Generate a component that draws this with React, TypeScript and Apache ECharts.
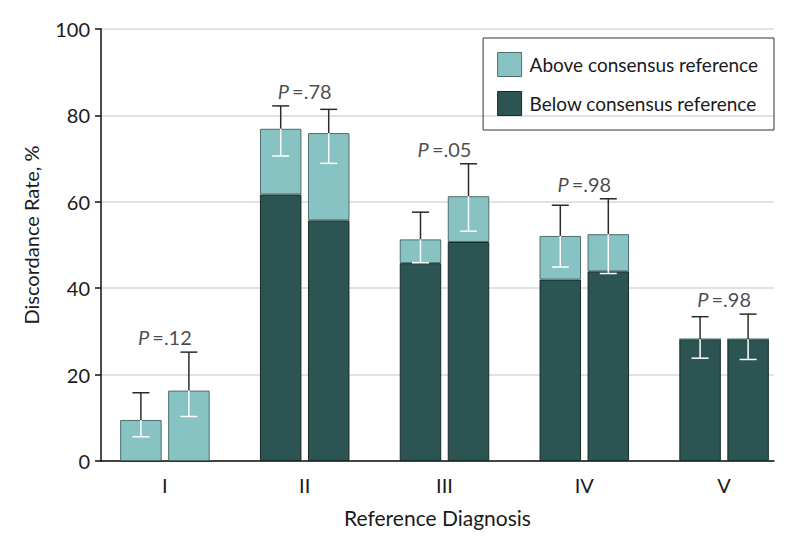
import React, { useEffect, useRef } from "react";
import * as echarts from "echarts";

const categories = ["I", "II", "III", "IV", "V"];
const belowA = [0, 61.7, 45.8, 42.0, 28.2];
const aboveA = [9.5, 15.2, 5.5, 10.1, 0];
const belowB = [0, 55.7, 50.7, 43.9, 28.2];
const aboveB = [16.3, 20.2, 10.6, 8.6, 0];
const upperA = [15.8, 82.2, 57.6, 59.2, 33.4];
const lowerA = [5.6, 70.6, 45.9, 44.9, 23.8];
const upperB = [25.2, 81.4, 68.8, 60.7, 34.0];
const lowerB = [10.3, 68.9, 53.2, 43.4, 23.5];
const pValues = [".12", ".78", ".05", ".98", ".98"];
const yTicks = [0, 20, 40, 60, 80, 100];

const ABOVE = "Above consensus reference";
const BELOW = "Below consensus reference";
const LIGHT = "#87c3c2";
const DARK = "#2b5453";
const FONT = "Lato";
const FS = 20;
const TEXT = "#1a1a1a";

const BAR_W = 41.5;
const GAP_PX = 6.5;

export default function App() {
  const ref = useRef<HTMLDivElement>(null);
  useEffect(() => {
    if (!ref.current) return;
    const chart = echarts.init(ref.current, undefined, { renderer: "svg" });

    const errSeries = (below: number[], above: number[], upper: number[], lower: number[], side: number) => ({
      type: "custom",
      xAxisIndex: 0,
      yAxisIndex: 0,
      z: 10,
      silent: true,
      data: categories.map((_, i) => [i, below[i] + above[i], upper[i], lower[i]]),
      renderItem: (params: any, api: any) => {
        const i = api.value(0);
        const top = api.coord([i, api.value(1)]);
        const up = api.coord([i, api.value(2)]);
        const lo = api.coord([i, api.value(3)]);
        const x = top[0] + side * (BAR_W + GAP_PX) / 2;
        const cap = 8.5;
        const dark = { stroke: "#2a2a2a", lineWidth: 1.5 };
        const white = { stroke: "#ffffff", lineWidth: 1.5 };
        return {
          type: "group",
          children: [
            { type: "line", shape: { x1: x, y1: top[1], x2: x, y2: up[1] }, style: dark },
            { type: "line", shape: { x1: x - cap, y1: up[1], x2: x + cap, y2: up[1] }, style: dark },
            { type: "line", shape: { x1: x, y1: top[1], x2: x, y2: lo[1] }, style: white },
            { type: "line", shape: { x1: x - cap, y1: lo[1], x2: x + cap, y2: lo[1] }, style: white },
          ],
        };
      },
    });

    const lightStyle = { color: LIGHT, borderColor: "#4d6e6d", borderWidth: 1 };
    const darkStyle = { color: DARK, borderColor: "#172b2a", borderWidth: 1 };

    chart.setOption({
      animation: false,
      textStyle: { fontFamily: FONT },
      grid: [
        { left: 95, top: 29, width: 705, height: 432 },
        { left: 101, top: 29, width: 673, height: 432 },
      ],
      legend: {
        orient: "vertical",
        right: 20,
        top: 38,
        icon: "rect",
        itemWidth: 24,
        itemHeight: 24,
        itemGap: 14,
        padding: [14, 16, 14, 14],
        borderColor: "#333",
        borderWidth: 1,
        textStyle: { fontSize: 19, color: TEXT, fontFamily: FONT, padding: [0, 0, 0, 3] },
        data: [
          { name: ABOVE, itemStyle: lightStyle },
          { name: BELOW, itemStyle: darkStyle },
        ],
      },
      xAxis: [
        {
          type: "category",
          gridIndex: 0,
          data: categories,
          axisLine: { show: false },
          axisTick: { show: false },
          axisLabel: { fontSize: FS, color: TEXT, margin: 14, fontFamily: FONT },
        },
        {
          type: "value",
          gridIndex: 1,
          min: 0,
          max: 1,
          axisLine: { show: true, lineStyle: { color: "#111", width: 1.5 } },
          axisTick: { show: false },
          axisLabel: { show: false },
          splitLine: { show: false },
          name: "Reference Diagnosis",
          nameLocation: "middle",
          nameGap: 46,
          nameTextStyle: { fontSize: 21, color: TEXT, fontFamily: FONT },
        },
      ],
      yAxis: [
        { type: "value", gridIndex: 0, min: 0, max: 100, show: false },
        {
          type: "value",
          gridIndex: 1,
          min: 0,
          max: 100,
          interval: 20,
          axisLine: { show: true, lineStyle: { color: "#111", width: 1.5 } },
          axisTick: { show: true, length: 6, lineStyle: { color: "#111", width: 1.5 } },
          axisLabel: {
            fontSize: FS,
            color: TEXT,
            margin: 11,
            fontFamily: FONT,
            formatter: (v: number) => (yTicks.includes(v) ? String(v) : ""),
          },
          splitLine: { show: true, lineStyle: { color: "#d9d9d9", width: 1.5 } },
          name: "Discordance Rate, %",
          nameLocation: "middle",
          nameGap: 60,
          nameRotate: 90,
          nameTextStyle: { fontSize: FS, color: TEXT, fontFamily: FONT, padding: [0, 0, 0, 20] },
        },
      ],
      series: [
        { name: BELOW, type: "bar", stack: "a", xAxisIndex: 0, yAxisIndex: 0, barWidth: BAR_W, barGap: (GAP_PX / BAR_W * 100).toFixed(1) + "%", data: belowA, itemStyle: darkStyle },
        { name: ABOVE, type: "bar", stack: "a", xAxisIndex: 0, yAxisIndex: 0, barWidth: BAR_W, data: aboveA, itemStyle: lightStyle },
        { name: BELOW, type: "bar", stack: "b", xAxisIndex: 0, yAxisIndex: 0, barWidth: BAR_W, data: belowB, itemStyle: darkStyle },
        { name: ABOVE, type: "bar", stack: "b", xAxisIndex: 0, yAxisIndex: 0, barWidth: BAR_W, data: aboveB, itemStyle: lightStyle },
        errSeries(belowA, aboveA, upperA, lowerA, -1),
        errSeries(belowB, aboveB, upperB, lowerB, 1),
        {
          type: "scatter",
          xAxisIndex: 0,
          yAxisIndex: 0,
          symbolSize: 0,
          silent: true,
          z: 11,
          data: categories.map((c, i) => [i, Math.max(upperA[i], upperB[i])]),
          label: {
            show: true,
            position: "top",
            distance: 5,
            formatter: (p: any) => "{i|P} {n|=" + pValues[p.dataIndex] + "}",
            rich: {
              i: { fontStyle: "italic", fontSize: FS, color: TEXT, fontFamily: FONT },
              n: { fontSize: FS, color: TEXT, fontFamily: FONT },
            },
          },
        },
      ],
    });
    return () => chart.dispose();
  }, []);
  return <div ref={ref} style={{ position: "absolute", left: 0, top: 0, width: 794, height: 546 }} />;
}
